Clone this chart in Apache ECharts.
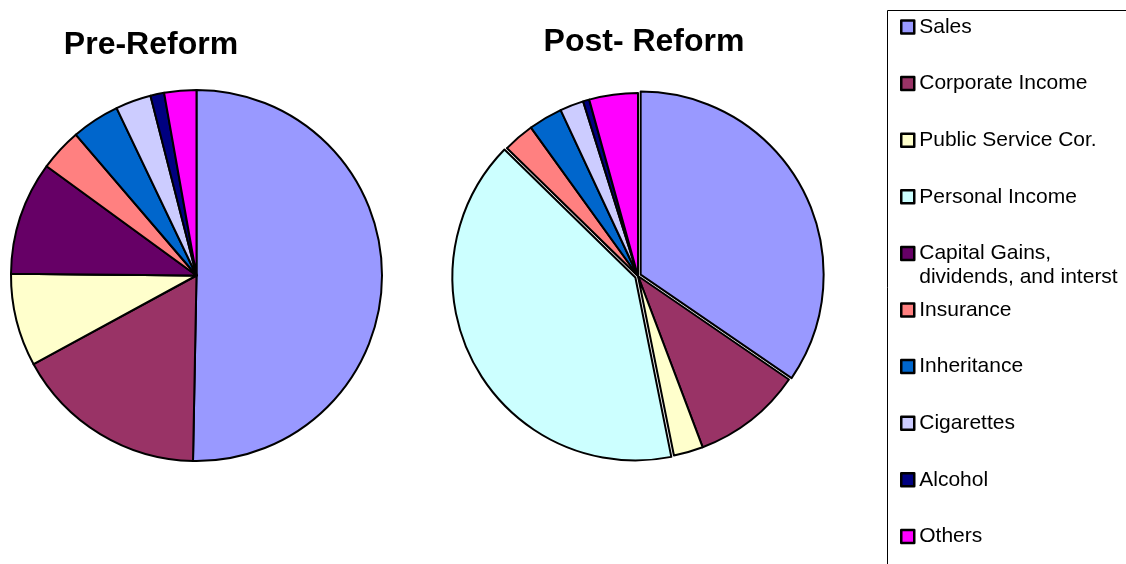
<!DOCTYPE html>
<html>
<head>
<meta charset="utf-8">
<title>Tax Revenue Composition: Pre-Reform vs Post- Reform</title>
<script src="https://cdn.jsdelivr.net/npm/echarts@6/dist/echarts.min.js"></script>
<style>
  html, body { margin: 0; padding: 0; background: #fff; }
  #chart { width: 1126px; height: 564px; }
</style>
</head>
<body>
<div id="chart"></div>
<script>
// Revenue sources, in legend order
const categories = [
  'Sales',
  'Corporate Income',
  'Public Service Cor.',
  'Personal Income',
  'Capital Gains,\ndividends, and interst',
  'Insurance',
  'Inheritance',
  'Cigarettes',
  'Alcohol',
  'Others'
];

// Share of total revenue (%) before and after the reform
const preReform  = [50.4, 16.8, 8.1, 0, 9.9, 3.7, 4.2, 3.1, 1.2, 2.8];
const postReform = [34.6, 9.7, 2.6, 40.5, 0, 2.75, 3.0, 2.1, 0.55, 4.3];

// Slices pulled out of the post-reform pie
const postExploded = ['Sales', 'Personal Income'];

const palette = ['#9999FF', '#993366', '#FFFFCC', '#CCFFFF', '#660066',
                 '#FF8080', '#0066CC', '#CCCCFF', '#000080', '#FF00FF'];

const FONT = '"Liberation Sans", Arial, Helvetica, sans-serif';

function pieData(values, exploded) {
  return categories.map((name, i) => ({
    name,
    value: values[i],
    selected: exploded ? exploded.includes(name) : false,
    itemStyle: { color: palette[i] }
  }));
}

const baseSeries = {
  type: 'pie',
  startAngle: 90,
  clockwise: true,
  label: { show: false },
  labelLine: { show: false },
  emphasis: { disabled: true },
  animation: false,
  itemStyle: { borderColor: '#000', borderWidth: 2 },
  select: { itemStyle: { borderColor: '#000', borderWidth: 2 } }
};

// One legend block per entry so every marker sits on an even vertical pitch.
// A wrapped name keeps its first line level with the marker: a blank
// leading line balances the text block around the marker's centre.
const LEGEND_FIRST = 27;
const LEGEND_STEP = 56.6;
const LINE_H = 24;
const legendText = { fontFamily: FONT, fontSize: 21, color: '#000', lineHeight: LINE_H };
const legends = categories.map((name, i) => {
  const lines = name.split('\n');
  const multi = lines.length > 1;
  const cy = LEGEND_FIRST + i * LEGEND_STEP;
  const leg = {
    data: [name],
    orient: 'vertical',
    left: 900,
    top: multi ? cy - LINE_H * 1.5 : cy - LINE_H / 2,
    padding: 0,
    itemWidth: 13,
    itemHeight: 13,
    selectedMode: false,
    icon: 'rect',
    itemStyle: { borderColor: '#000', borderWidth: 2.5 },
    textStyle: Object.assign({}, legendText)
  };
  if (multi) {
    leg.formatter = () => ['{g| }'].concat(lines.map(l => '{t|' + l + '}')).join('\n');
    leg.textStyle.rich = {
      g: Object.assign({}, legendText),
      t: Object.assign({}, legendText)
    };
  }
  return leg;
});

const chart = echarts.init(document.getElementById('chart'), null, { renderer: 'canvas' });
chart.setOption({
  backgroundColor: '#fff',
  animation: false,
  title: [
    {
      text: 'Pre-Reform',
      left: 146, top: 24, textAlign: 'center',
      textStyle: { fontFamily: FONT, fontSize: 32, fontWeight: 'bold', color: '#000' }
    },
    {
      text: 'Post- Reform',
      left: 639, top: 21, textAlign: 'center',
      textStyle: { fontFamily: FONT, fontSize: 32, fontWeight: 'bold', color: '#000' }
    }
  ],
  legend: legends,
  graphic: [
    {
      type: 'rect',
      shape: { x: 887.5, y: 10.5, width: 400, height: 700 },
      style: { fill: 'none', stroke: '#000', lineWidth: 1 },
      silent: true,
      z: -1
    }
  ],
  series: [
    Object.assign({}, baseSeries, {
      name: 'Pre-Reform',
      center: [196.5, 275.5],
      radius: [0, 185.5],
      selectedMode: false,
      data: pieData(preReform, null)
    }),
    Object.assign({}, baseSeries, {
      name: 'Post- Reform',
      center: [638, 276],
      radius: [0, 183],
      selectedMode: 'multiple',
      selectedOffset: 3,
      data: pieData(postReform, postExploded)
    })
  ]
});
</script>
</body>
</html>
